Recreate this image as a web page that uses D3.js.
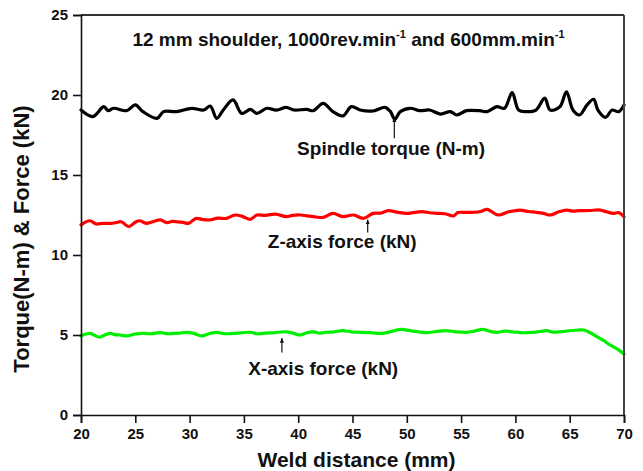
<!DOCTYPE html>
<html>
<head>
<meta charset="utf-8">
<script src="https://cdn.jsdelivr.net/npm/d3@7"></script>
<style>
  html, body { margin: 0; padding: 0; background: #fff; }
  svg { display: block; }
  text { font-family: "Liberation Sans", Arial, sans-serif; font-weight: bold; fill: #111; }
</style>
</head>
<body>
<svg id="chart" width="643" height="471"></svg>
<script>
// ---- data ----
const xTicks = [20, 25, 30, 35, 40, 45, 50, 55, 60, 65, 70];
const yTicks = [0, 5, 10, 15, 20, 25];

// Spindle torque (N-m): [weld distance mm, value]
const torque = [
  [20.0,19.06],[21.1,18.65],[22.1,19.27],[22.5,19.02],[23.0,19.17],[24.2,19.02],[25.0,19.38],
  [25.7,18.96],[27.0,18.54],[27.6,18.96],[28.8,18.96],[30.2,19.17],[31.3,19.06],[31.9,19.31],
  [32.5,18.54],[33.1,19.06],[34.0,19.69],[34.8,18.85],[35.6,19.10],[36.2,18.85],[37.1,19.17],
  [38.0,19.06],[38.9,19.23],[39.6,19.06],[40.8,19.10],[41.4,19.02],[42.3,19.48],[43.2,18.96],
  [44.1,18.69],[44.9,19.27],[45.7,19.06],[46.9,19.00],[48.0,19.23],[48.5,18.96],[48.9,18.48],
  [49.4,18.96],[50.3,19.17],[51.2,19.02],[52.1,19.06],[53.1,18.81],[54.0,18.96],[54.6,18.75],
  [55.5,19.02],[56.7,19.02],[57.4,18.96],[58.3,19.27],[59.0,19.17],[59.7,20.15],[60.3,19.06],
  [61.0,18.96],[61.9,19.06],[62.7,19.80],[63.2,19.06],[64.1,19.27],[64.7,20.20],[65.3,19.06],
  [65.9,18.75],[66.6,19.38],[67.2,19.73],[67.6,19.06],[68.3,18.60],[68.9,19.06],[69.5,18.96],
  [70.0,19.38]
];

// Z-axis force (kN)
const zForce = [
  [20.0,11.88],[20.8,12.14],[21.4,11.94],[22.0,11.98],[22.7,11.98],[23.2,12.02],[23.7,12.08],
  [24.4,11.77],[25.0,12.05],[25.4,12.14],[26.0,11.98],[26.6,12.08],[27.3,12.19],[27.9,12.02],
  [28.4,12.10],[28.8,12.08],[29.4,12.04],[29.9,11.98],[30.6,12.29],[31.2,12.22],[31.9,12.19],
  [32.6,12.30],[33.4,12.29],[34.2,12.50],[34.9,12.40],[35.6,12.23],[36.2,12.50],[37.0,12.48],
  [37.9,12.56],[38.9,12.40],[39.5,12.48],[40.2,12.50],[40.8,12.45],[41.4,12.40],[42.3,12.35],
  [43.2,12.60],[44.1,12.40],[45.1,12.50],[46.0,12.29],[46.9,12.60],[47.6,12.62],[48.3,12.77],
  [49.2,12.66],[50.0,12.60],[50.7,12.66],[51.4,12.71],[52.1,12.64],[52.8,12.60],[53.5,12.58],
  [54.3,12.44],[54.7,12.65],[55.4,12.66],[56.1,12.67],[56.8,12.72],[57.4,12.85],[58.4,12.50],
  [59.4,12.70],[60.4,12.81],[61.2,12.72],[61.9,12.67],[62.6,12.60],[63.2,12.50],[64.0,12.70],
  [64.7,12.81],[65.3,12.74],[65.9,12.77],[66.8,12.78],[67.8,12.81],[68.4,12.70],[69.0,12.60],
  [69.5,12.65],[70.0,12.40]
];

// X-axis force (kN)
const xForce = [
  [20.0,4.94],[20.8,5.10],[21.7,4.86],[22.2,5.00],[22.7,5.10],[23.1,5.02],[23.6,5.00],
  [24.2,4.94],[25.0,5.06],[25.7,5.10],[26.5,5.08],[27.3,5.15],[28.0,5.08],[28.5,5.10],
  [29.1,5.12],[29.7,5.17],[30.4,5.10],[31.1,4.94],[31.8,5.08],[32.5,5.17],[33.2,5.08],
  [34.0,5.10],[34.8,5.14],[35.6,5.17],[36.2,5.08],[36.8,5.10],[37.8,5.15],[38.9,5.20],
  [39.5,5.12],[40.2,5.00],[40.8,5.14],[41.4,5.20],[42.0,5.12],[42.6,5.17],[43.3,5.20],
  [44.1,5.27],[44.9,5.20],[45.7,5.17],[46.7,5.14],[47.8,5.10],[48.6,5.22],[49.4,5.35],
  [50.6,5.24],[51.8,5.15],[52.7,5.22],[53.6,5.27],[54.5,5.20],[55.5,5.17],[56.2,5.24],
  [57.0,5.35],[57.6,5.24],[58.3,5.17],[59.0,5.24],[59.8,5.20],[60.7,5.14],[61.6,5.17],
  [62.3,5.22],[62.9,5.27],[63.5,5.18],[64.1,5.20],[65.2,5.28],[66.3,5.31],[66.9,5.14],
  [67.5,4.90],[68.1,4.66],[68.7,4.38],[69.4,4.12],[70.0,3.81]
];

const seriesData = [
  { name: "Spindle torque (N-m)", values: torque, color: "#000000" },
  { name: "Z-axis force (kN)",    values: zForce, color: "#ff0000" },
  { name: "X-axis force (kN)",    values: xForce, color: "#00ee00" }
];

// annotations: label start (x, baseline y) and arrow (x, from y to y) in data units
const annotations = [
  { text: "Spindle torque (N-m)", tx: 39.9, ty: 16.25, ax: 48.85, ay0: 17.3, ay1: 18.6 },
  { text: "Z-axis force (kN)",    tx: 37.2, ty: 10.45, ax: 46.4,  ay0: 11.4, ay1: 12.2 },
  { text: "X-axis force (kN)",    tx: 35.4, ty: 2.5,   ax: 38.5,  ay0: 3.9,  ay1: 4.8 }
];

// ---- layout ----
const svg = d3.select("#chart");
const margin = { left: 81, right: 19, top: 15, bottom: 56 };
const W = 643, H = 471;
const x = d3.scaleLinear().domain([20, 70]).range([margin.left, W - margin.right]);
const y = d3.scaleLinear().domain([0, 25]).range([H - margin.bottom, margin.top]);

// defs arrowhead
svg.append("defs").append("marker")
  .attr("id", "arrow").attr("viewBox", "0 0 10 10")
  .attr("refX", 9).attr("refY", 5)
  .attr("markerWidth", 5).attr("markerHeight", 7)
  .attr("markerUnits", "userSpaceOnUse")
  .attr("orient", "auto")
  .append("path").attr("d", "M0,1 L10,5 L0,9 Z").attr("fill", "#111");

// lines
const line = d3.line().x(d => x(d[0])).y(d => y(d[1])).curve(d3.curveCatmullRom.alpha(0.5));
svg.append("g").selectAll("path").data(seriesData).join("path")
  .attr("d", d => line(d.values))
  .attr("fill", "none")
  .attr("stroke", d => d.color)
  .attr("stroke-width", 3.2)
  .attr("stroke-linejoin", "round")
  .attr("stroke-linecap", "round");

// frame top/right
svg.append("line").attr("x1", x(20)).attr("x2", x(70)).attr("y1", y(25)).attr("y2", y(25))
  .attr("stroke", "#333").attr("stroke-width", 2);
svg.append("line").attr("x1", x(70)).attr("x2", x(70)).attr("y1", y(25)).attr("y2", y(0))
  .attr("stroke", "#444").attr("stroke-width", 2);

// axes
const xMinor = d3.range(22.5, 70, 5);
const yMinor = d3.range(2.5, 25, 5);

const gx = svg.append("g").attr("transform", `translate(0,${y(0)})`);
gx.call(d3.axisBottom(x).tickValues(xMinor).tickSize(4).tickFormat(""));
gx.call(d3.axisBottom(x).tickValues(xTicks).tickSize(8).tickPadding(5).tickFormat(d3.format("d")));
gx.selectAll(".domain").attr("stroke", "#111").attr("stroke-width", 1.6);
gx.selectAll(".tick line").attr("stroke", "#111").attr("stroke-width", 1.6);
gx.selectAll(".tick text").style("font-size", "15px").style("font-family", "Liberation Sans, Arial, sans-serif").style("font-weight", "bold").attr("fill", "#111");

const gy = svg.append("g").attr("transform", `translate(${x(20)},0)`);
gy.call(d3.axisLeft(y).tickValues(yMinor).tickSize(4).tickFormat(""));
gy.call(d3.axisLeft(y).tickValues(yTicks).tickSize(8).tickPadding(5).tickFormat(d3.format("d")));
gy.selectAll(".domain").attr("stroke", "#111").attr("stroke-width", 1.6);
gy.selectAll(".tick line").attr("stroke", "#111").attr("stroke-width", 1.6);
gy.selectAll(".tick text").style("font-size", "15px").style("font-family", "Liberation Sans, Arial, sans-serif").style("font-weight", "bold").attr("fill", "#111");

// title
const title = svg.append("text")
  .attr("x", (x(20) + x(70)) / 2 - 4).attr("y", 46)
  .attr("text-anchor", "middle").style("font-size", "19px");
title.append("tspan").text("12 mm shoulder, 1000rev.min");
title.append("tspan").text("-1").style("font-size", "11px").attr("dy", -8);
title.append("tspan").text(" and 600mm.min").attr("dy", 8);
title.append("tspan").text("-1").style("font-size", "11px").attr("dy", -8);

// annotations
const ann = svg.append("g");
ann.selectAll("text").data(annotations).join("text")
  .attr("x", d => x(d.tx)).attr("y", d => y(d.ty))
  .style("font-size", "19px").text(d => d.text);
ann.selectAll("line").data(annotations).join("line")
  .attr("x1", d => x(d.ax)).attr("x2", d => x(d.ax))
  .attr("y1", d => y(d.ay0)).attr("y2", d => y(d.ay1))
  .attr("stroke", "#111").attr("stroke-width", 1.2)
  .attr("marker-end", "url(#arrow)");

// axis titles
svg.append("text")
  .attr("x", (x(20) + x(70)) / 2 + 4).attr("y", 467)
  .attr("text-anchor", "middle").style("font-size", "21px")
  .text("Weld distance (mm)");
svg.append("text")
  .attr("transform", `translate(29, ${(y(0) + y(25)) / 2 + 24}) rotate(-90)`)
  .attr("text-anchor", "middle").style("font-size", "22px")
  .text("Torque(N-m) & Force (kN)");
</script>
</body>
</html>
